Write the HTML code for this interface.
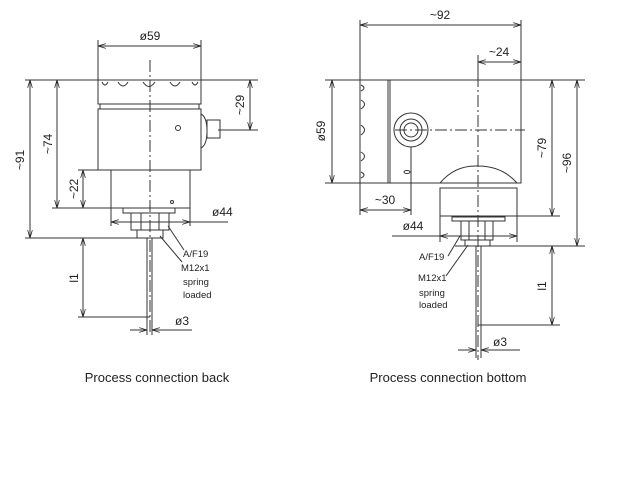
<!DOCTYPE html>
<html><head><meta charset="utf-8"><style>
html,body{margin:0;padding:0;background:#fff;width:640px;height:480px;overflow:hidden}
svg{display:block}
text{font-family:"Liberation Sans",sans-serif;fill:#222}
</style></head><body>
<svg width="640" height="480" viewBox="0 0 640 480" xmlns="http://www.w3.org/2000/svg">
<defs>
<marker id="a" viewBox="0 0 10 6" refX="10" refY="3" markerWidth="8" markerHeight="5" orient="auto-start-reverse"><path d="M0,0 L10,3 L0,6" fill="none" stroke="#222" stroke-width="1"/></marker>
</defs>
<g stroke="#333" stroke-width="1" fill="none">
<!-- LEFT DRAWING -->
<line x1="25" y1="80" x2="258" y2="80"/>
<line x1="98" y1="40" x2="98" y2="80"/><line x1="201" y1="40" x2="201" y2="80"/>
<line x1="98" y1="46" x2="201" y2="46" marker-start="url(#a)" marker-end="url(#a)"/>
<rect x="98" y="80" width="103" height="24"/>
<path d="M102,82 q3,6 6,0 M118,82 q5,8 10,0 M143,82 q6,9 12,0 M170,82 q5,8 10,0 M192,82 q3,6 6,0"/>
<rect x="100" y="104" width="99" height="5"/>
<rect x="98" y="109" width="103" height="61"/>
<path d="M201,114 q6,3 6,17 q0,14 -6,17"/>
<rect x="207" y="120" width="13" height="18"/>
<circle cx="178" cy="128" r="2.5"/>
<line x1="218" y1="130" x2="258" y2="130"/>
<line x1="250" y1="80" x2="250" y2="130" marker-start="url(#a)" marker-end="url(#a)"/>
<rect x="111" y="170" width="79" height="38"/>
<circle cx="172" cy="202" r="1.5"/>
<line x1="78" y1="170" x2="111" y2="170"/>
<line x1="83" y1="170" x2="83" y2="208" marker-start="url(#a)" marker-end="url(#a)"/>
<line x1="52" y1="208" x2="123" y2="208"/>
<line x1="57" y1="80" x2="57" y2="208" marker-start="url(#a)" marker-end="url(#a)"/>
<line x1="25" y1="238" x2="150" y2="238"/>
<line x1="30" y1="80" x2="30" y2="238" marker-start="url(#a)" marker-end="url(#a)"/>
<rect x="123" y="208" width="52" height="5"/>
<rect x="131" y="213" width="38" height="17"/>
<line x1="141" y1="213" x2="141" y2="230"/><line x1="159" y1="213" x2="159" y2="230"/>
<rect x="137" y="230" width="26" height="8"/>
<line x1="111" y1="208" x2="111" y2="226"/><line x1="190" y1="208" x2="190" y2="226"/>
<line x1="111" y1="222" x2="190" y2="222" marker-start="url(#a)" marker-end="url(#a)"/>
<line x1="190" y1="222" x2="228" y2="222"/>
<line x1="147" y1="238" x2="147" y2="335"/><line x1="152" y1="238" x2="152" y2="335"/>
<line x1="83" y1="238" x2="83" y2="317" marker-start="url(#a)" marker-end="url(#a)"/>
<line x1="78" y1="317" x2="150" y2="317"/>
<line x1="130" y1="330" x2="147" y2="330" marker-end="url(#a)"/>
<line x1="152" y1="330" x2="192" y2="330" marker-start="url(#a)"/>
<line x1="168" y1="226" x2="184" y2="250"/>
<line x1="160" y1="236" x2="182" y2="262"/>
<line x1="150" y1="60" x2="150" y2="335" stroke-dasharray="12,3,2,3"/>

<!-- RIGHT DRAWING -->
<line x1="325" y1="80" x2="585" y2="80"/>
<line x1="325" y1="183" x2="442" y2="183"/>
<line x1="360" y1="20" x2="360" y2="215"/><line x1="521" y1="20" x2="521" y2="80"/>
<line x1="360" y1="25" x2="521" y2="25" marker-start="url(#a)" marker-end="url(#a)"/>
<line x1="478" y1="57" x2="478" y2="78"/>
<line x1="478" y1="62" x2="521" y2="62" marker-start="url(#a)" marker-end="url(#a)"/>
<rect x="360" y="80" width="28" height="103"/>
<path d="M361,85 q6,3 0,6 M361,100 q7,4 0,9 M361,125 q7,5 0,10 M361,152 q7,4 0,9 M361,172 q6,3 0,6"/>
<line x1="388" y1="80" x2="388" y2="183"/>
<rect x="390" y="80" width="131" height="103"/>
<circle cx="411" cy="130" r="17"/><circle cx="411" cy="130" r="11"/><circle cx="411" cy="130" r="7"/>
<ellipse cx="407" cy="172" rx="3" ry="1.5"/>
<path d="M440,183 q15,-18 38,-17 q24,0 39,17"/>
<rect x="440" y="188" width="77" height="28"/>
<line x1="440" y1="183" x2="517" y2="183"/>
<line x1="332" y1="80" x2="332" y2="183" marker-start="url(#a)" marker-end="url(#a)"/>
<line x1="411" y1="147" x2="411" y2="215"/>
<line x1="360" y1="210" x2="411" y2="210" marker-start="url(#a)" marker-end="url(#a)"/>
<line x1="517" y1="216" x2="560" y2="216"/>
<line x1="552" y1="80" x2="552" y2="216" marker-start="url(#a)" marker-end="url(#a)"/>
<line x1="455" y1="246" x2="585" y2="246"/>
<line x1="577" y1="80" x2="577" y2="246" marker-start="url(#a)" marker-end="url(#a)"/>
<rect x="452" y="217" width="53" height="4"/>
<rect x="461" y="221" width="32" height="19"/>
<line x1="469" y1="221" x2="469" y2="240"/><line x1="485" y1="221" x2="485" y2="240"/>
<rect x="465" y="240" width="25" height="6"/>
<line x1="440" y1="216" x2="440" y2="242"/><line x1="517" y1="216" x2="517" y2="242"/>
<line x1="392" y1="236" x2="440" y2="236"/>
<line x1="440" y1="236" x2="517" y2="236" marker-start="url(#a)" marker-end="url(#a)"/>
<line x1="476" y1="246" x2="476" y2="358"/><line x1="481" y1="246" x2="481" y2="358"/>
<line x1="552" y1="246" x2="552" y2="325" marker-start="url(#a)" marker-end="url(#a)"/>
<line x1="478" y1="325" x2="560" y2="325"/>
<line x1="458" y1="350" x2="476" y2="350" marker-end="url(#a)"/>
<line x1="481" y1="350" x2="520" y2="350" marker-start="url(#a)"/>
<line x1="460" y1="236" x2="448" y2="256"/>
<line x1="468" y1="245" x2="446" y2="276"/>
<line x1="478" y1="55" x2="478" y2="360" stroke-dasharray="12,3,2,3"/>
<line x1="395" y1="130" x2="525" y2="130" stroke-dasharray="12,3,2,3"/>
</g>
<g font-size="12">
<text x="150" y="40" text-anchor="middle">ø59</text>
<text x="212" y="216">ø44</text>
<text x="175" y="325">ø3</text>
<text transform="translate(244,105) rotate(-90)" text-anchor="middle">~29</text>
<text transform="translate(52,144) rotate(-90)" text-anchor="middle">~74</text>
<text transform="translate(24,160) rotate(-90)" text-anchor="middle">~91</text>
<text transform="translate(78,189) rotate(-90)" text-anchor="middle">~22</text>
<text transform="translate(78,278) rotate(-90)" text-anchor="middle">l1</text>
<text x="440" y="19" text-anchor="middle">~92</text>
<text x="499" y="56" text-anchor="middle">~24</text>
<text x="385" y="204" text-anchor="middle">~30</text>
<text x="413" y="230" text-anchor="middle">ø44</text>
<text x="500" y="346" text-anchor="middle">ø3</text>
<text transform="translate(325,131) rotate(-90)" text-anchor="middle">ø59</text>
<text transform="translate(546,148) rotate(-90)" text-anchor="middle">~79</text>
<text transform="translate(571,163) rotate(-90)" text-anchor="middle">~96</text>
<text transform="translate(546,286) rotate(-90)" text-anchor="middle">l1</text>
</g>
<g font-size="9.5">
<text x="183" y="257">A/F19</text>
<text x="181" y="271">M12x1</text>
<text x="183" y="285">spring</text>
<text x="183" y="298">loaded</text>
<text x="419" y="260">A/F19</text>
<text x="418" y="281">M12x1</text>
<text x="419" y="296">spring</text>
<text x="419" y="308">loaded</text>
</g>
<g font-size="13">
<text x="157" y="382" text-anchor="middle">Process connection back</text>
<text x="448" y="382" text-anchor="middle">Process connection bottom</text>
</g>
</svg>
</body></html>
